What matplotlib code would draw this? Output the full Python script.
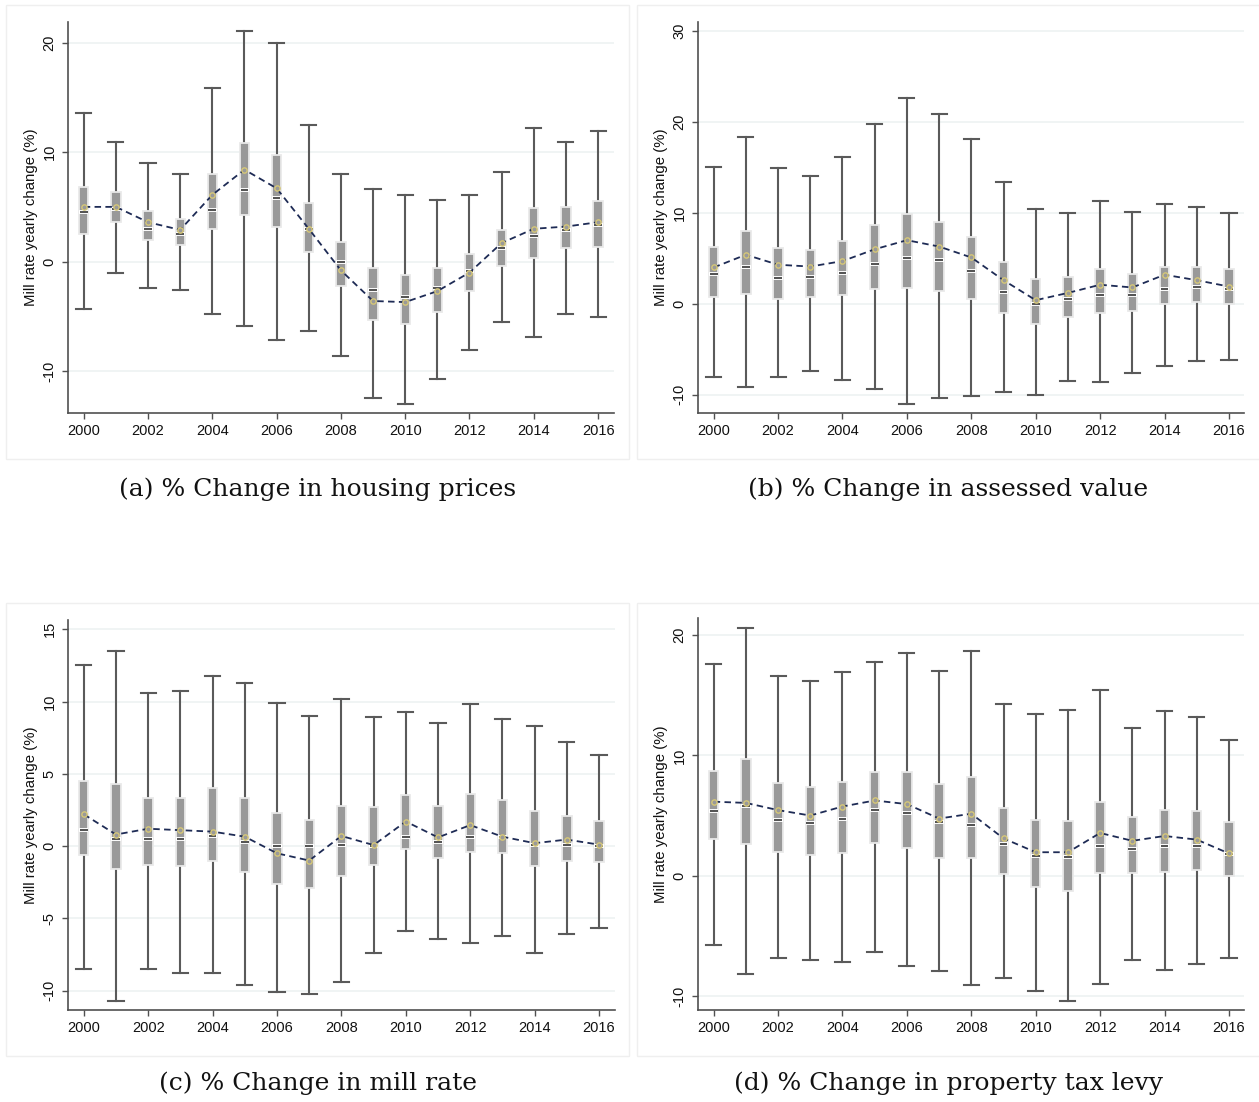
import matplotlib
matplotlib.use("Agg")
import matplotlib.pyplot as plt
from matplotlib.patches import Rectangle
import numpy as np

years = list(range(2000, 2017))
xtick_years = list(range(2000, 2017, 2))
ylabel_text = "Mill rate yearly change (%)"

# (a) housing prices
housing_hi = [13.6, 10.9, 9.0, 8.0, 15.9, 21.1, 20.0, 12.5, 8.0, 6.6, 6.1, 5.6, 6.1, 8.2, 12.2, 10.9, 11.9]
housing_q3 = [6.8, 6.4, 4.6, 3.9, 8.0, 10.8, 9.7, 5.4, 1.8, -0.6, -1.2, -0.6, 0.7, 2.9, 4.9, 5.0, 5.5]
housing_med = [4.5, 4.8, 3.0, 2.5, 4.7, 6.5, 5.8, 3.0, 0.0, -2.6, -3.2, -2.4, -0.9, 1.2, 2.3, 2.9, 3.3]
housing_q1 = [2.5, 3.6, 2.0, 1.5, 3.0, 4.3, 3.2, 0.9, -2.2, -5.3, -5.7, -4.6, -2.7, -0.4, 0.3, 1.2, 1.3]
housing_lo = [-4.3, -1.0, -2.4, -2.6, -4.8, -5.9, -7.2, -6.3, -8.6, -12.5, -13.0, -10.7, -8.1, -5.5, -6.9, -4.8, -5.1]
housing_mean = [5.0, 5.0, 3.6, 2.9, 6.1, 8.4, 6.7, 3.0, -0.8, -3.6, -3.7, -2.7, -1.0, 1.7, 3.0, 3.2, 3.6]

# (b) assessed value
assessed_hi = [15.0, 18.4, 14.9, 14.1, 16.2, 19.8, 22.6, 20.9, 18.1, 13.4, 10.4, 10.0, 11.3, 10.1, 11.0, 10.6, 10.0]
assessed_q3 = [6.2, 8.0, 6.1, 5.9, 6.9, 8.7, 9.9, 9.0, 7.4, 4.6, 2.7, 2.9, 3.8, 3.3, 4.1, 4.1, 3.8]
assessed_med = [3.3, 4.1, 2.8, 2.9, 3.4, 4.4, 5.0, 4.8, 3.6, 1.3, 0.0, 0.5, 1.0, 1.0, 1.6, 1.8, 1.6]
assessed_q1 = [0.7, 1.1, 0.5, 0.8, 1.0, 1.6, 1.7, 1.4, 0.5, -1.0, -2.2, -1.4, -1.0, -0.8, 0.0, 0.2, 0.0]
assessed_lo = [-8.1, -9.2, -8.1, -7.4, -8.4, -9.4, -11.0, -10.4, -10.1, -9.7, -10.0, -8.5, -8.6, -7.6, -6.8, -6.3, -6.2]
assessed_mean = [4.0, 5.4, 4.3, 4.1, 4.7, 6.0, 7.0, 6.3, 5.1, 2.6, 0.4, 1.2, 2.1, 1.8, 3.2, 2.6, 1.9]

# (c) mill rate
mill_hi = [12.5, 13.5, 10.6, 10.7, 11.8, 11.3, 9.9, 9.0, 10.2, 8.9, 9.3, 8.5, 9.8, 8.8, 8.3, 7.2, 6.3]
mill_q3 = [4.5, 4.3, 3.3, 3.3, 4.0, 3.3, 2.3, 1.8, 2.8, 2.7, 3.5, 2.8, 3.6, 3.2, 2.4, 2.1, 1.75]
mill_med = [1.1, 0.5, 0.5, 0.5, 0.7, 0.25, 0.0, 0.0, 0.05, 0.0, 0.6, 0.25, 0.6, 0.65, 0.05, 0.1, 0.0]
mill_q1 = [-0.6, -1.6, -1.3, -1.4, -1.0, -1.8, -2.6, -2.9, -2.1, -1.3, -0.2, -0.8, -0.4, -0.5, -1.4, -1.0, -1.1]
mill_lo = [-8.5, -10.7, -8.5, -8.8, -8.8, -9.6, -10.1, -10.2, -9.4, -7.4, -5.9, -6.4, -6.7, -6.2, -7.4, -6.1, -5.7]
mill_mean = [2.2, 0.8, 1.2, 1.1, 1.0, 0.65, -0.5, -1.0, 0.7, 0.07, 1.7, 0.6, 1.45, 0.65, 0.2, 0.45, 0.1]

# (d) property tax levy
levy_hi = [17.6, 20.55, 16.6, 16.2, 16.9, 17.75, 18.5, 17.05, 18.65, 14.25, 13.4, 13.75, 15.4, 12.25, 13.7, 13.15, 11.3]
levy_q3 = [8.7, 9.7, 7.7, 7.4, 7.75, 8.6, 8.6, 7.6, 8.2, 5.6, 4.65, 4.55, 6.15, 4.9, 5.5, 5.35, 4.45]
levy_med = [5.4, 5.8, 4.65, 4.4, 4.75, 5.5, 5.2, 4.5, 4.25, 2.6, 1.6, 1.55, 2.5, 2.25, 2.45, 2.5, 1.8]
levy_q1 = [3.05, 2.6, 2.0, 1.7, 1.9, 2.75, 2.3, 1.5, 1.45, 0.1, -0.9, -1.3, 0.2, 0.25, 0.3, 0.45, 0.0]
levy_lo = [-5.8, -8.2, -6.85, -7.0, -7.2, -6.3, -7.5, -7.9, -9.1, -8.5, -9.6, -10.4, -9.0, -7.0, -7.85, -7.3, -6.85]
levy_mean = [6.15, 6.05, 5.45, 5.0, 5.75, 6.25, 5.95, 4.75, 5.15, 3.1, 1.95, 1.95, 3.55, 2.9, 3.3, 3.0, 1.85]

captions = ["(a) % Change in housing prices", "(b) % Change in assessed value",
            "(c) % Change in mill rate", "(d) % Change in property tax levy"]

W, H = 1259, 1102
plt.rcParams["font.family"] = ["Liberation Sans", "DejaVu Sans"]
fig = plt.figure(figsize=(W / 100, H / 100), dpi=100)
fig.patch.set_facecolor("white")

BOX_FILL = "#999999"
BOX_EDGE = "#e9e9e9"
WHISKER = "#5a5a5a"
AXIS = "#505050"
GRID = "#edf2f2"
MEAN_EDGE = "#d6c777"
LINE = "#1e2b55"


def px_axes(left, top, right, bottom):
    return [left / W, 1 - bottom / H, (right - left) / W, (bottom - top) / H]


panels = [
    dict(rect=(68.3, 21.7, 613.5, 413.3), frame=(6, 5, 629, 459), cap_y=489,
         ylim=(-13.86, 21.92), yticks=[-10, 0, 10, 20],
         data=(housing_hi, housing_q3, housing_med, housing_q1, housing_lo, housing_mean)),
    dict(rect=(698.2, 21.7, 1244.4, 413.3), frame=(637, 5, 1262, 459), cap_y=489,
         ylim=(-12.04, 31.03), yticks=[-10, 0, 10, 20, 30],
         data=(assessed_hi, assessed_q3, assessed_med, assessed_q1, assessed_lo, assessed_mean)),
    dict(rect=(68.3, 620, 614.5, 1010), frame=(6, 603, 629, 1056), cap_y=1083,
         ylim=(-11.34, 15.64), yticks=[-10, -5, 0, 5, 10, 15],
         data=(mill_hi, mill_q3, mill_med, mill_q1, mill_lo, mill_mean)),
    dict(rect=(698.2, 618.3, 1244.4, 1010), frame=(637, 603, 1262, 1056), cap_y=1083,
         ylim=(-11.16, 21.39), yticks=[-10, 0, 10, 20],
         data=(levy_hi, levy_q3, levy_med, levy_q1, levy_lo, levy_mean)),
]

for p, caption in zip(panels, captions):
    fl, ft, fr, fb = p["frame"]
    fig.patches.append(Rectangle((fl / W, 1 - fb / H), (fr - fl) / W, (fb - ft) / H,
                                 transform=fig.transFigure, fill=False,
                                 edgecolor="#efefef", linewidth=1.0, zorder=0))
    fig.text(((fl + min(fr, W)) / 2) / W, 1 - p["cap_y"] / H, caption, ha="center",
             va="center", fontsize=18, family="DejaVu Serif", color="#111111")

    ax = fig.add_axes(px_axes(*p["rect"]))
    hi, q3, med, q1, lo, mean = p["data"]
    stats = [dict(whishi=h, q3=a, med=m, q1=b, whislo=l, fliers=[])
             for h, a, m, b, l in zip(hi, q3, med, q1, lo)]
    ax.bxp(stats, positions=years, widths=0.29, capwidths=0.47, patch_artist=True,
           showfliers=False, manage_ticks=False,
           boxprops=dict(facecolor=BOX_FILL, edgecolor=BOX_EDGE, linewidth=1.3, zorder=3),
           whiskerprops=dict(color=WHISKER, linewidth=1.5, zorder=2),
           capprops=dict(color=WHISKER, linewidth=1.5, zorder=2),
           medianprops=dict(color="white", linewidth=2.8, zorder=4, solid_capstyle="butt"))
    # dark median stroke inside the white notch
    ax.hlines(med, np.array(years) - 0.12, np.array(years) + 0.12, colors="#222222",
              linewidth=1.1, zorder=5)
    ax.plot(years, mean, linestyle=(0, (3.6, 2.4)), color=LINE, linewidth=1.3, zorder=6)
    ax.plot(years, mean, linestyle="none", marker="o", markersize=3.8,
            markerfacecolor=BOX_FILL, markeredgecolor=MEAN_EDGE, markeredgewidth=1.0, zorder=7)

    ax.set_xlim(1999.52, 2016.48)
    ax.set_ylim(*p["ylim"])
    ax.set_xticks(xtick_years)
    ax.set_xticklabels([str(y) for y in xtick_years])
    ax.set_yticks(p["yticks"])
    ax.set_yticklabels([str(t) for t in p["yticks"]], rotation=90, va="center")
    ax.yaxis.grid(True, color=GRID, linewidth=1.2, zorder=0)
    ax.set_axisbelow(True)
    for side in ("top", "right"):
        ax.spines[side].set_visible(False)
    for side in ("left", "bottom"):
        ax.spines[side].set_color(AXIS)
        ax.spines[side].set_linewidth(1.2)
    ax.tick_params(axis="both", colors=AXIS, length=4.5, width=1.0, labelsize=10.5,
                   labelcolor="#111111", direction="out")
    ax.tick_params(axis="x", pad=3.5)
    ax.tick_params(axis="y", pad=4)
    ax.set_ylabel(ylabel_text, fontsize=10.8, color="#111111", labelpad=3)
    ax.set_facecolor("white")

fig.savefig("out.png", dpi=100, facecolor="white")
